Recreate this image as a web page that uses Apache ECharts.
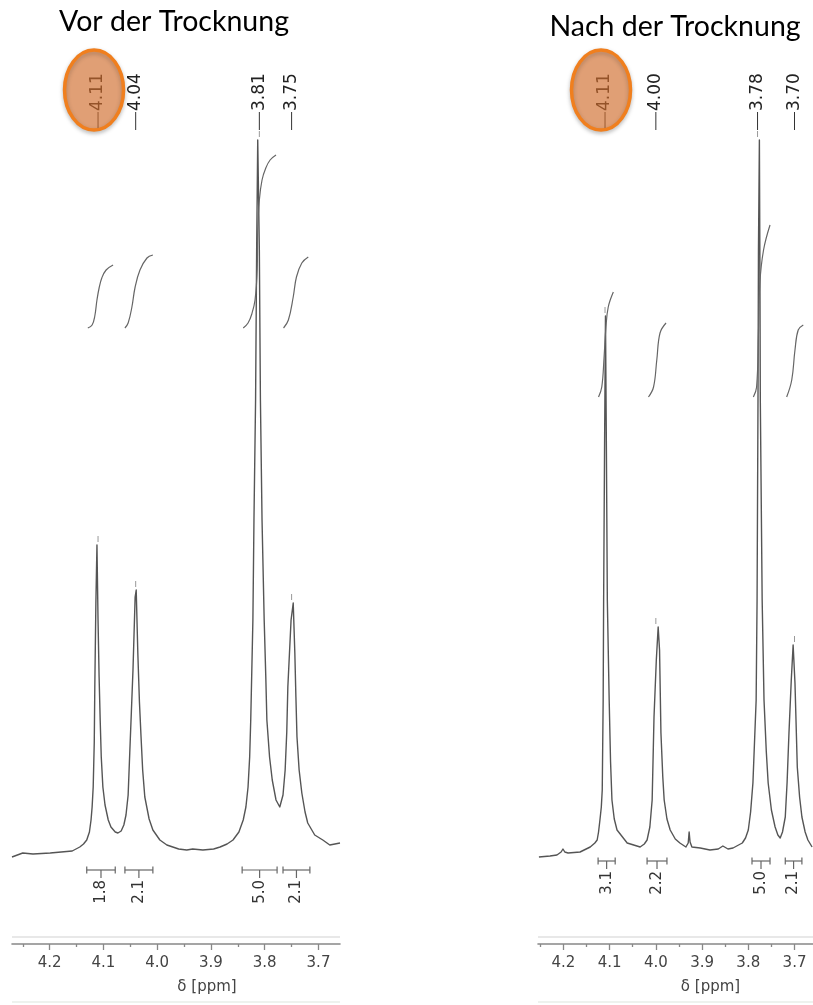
<!DOCTYPE html>
<html>
<head>
<meta charset="utf-8">
<title>NMR vor / nach der Trocknung</title>
<script src="https://cdn.jsdelivr.net/npm/echarts@6/dist/echarts.min.js"></script>
<style>
  html, body { margin: 0; padding: 0; background: #fff; }
  #myChart { width: 813px; height: 1005px; }
</style>
</head>
<body>
<div id="myChart"></div>
<script>
// Spektren [ppm, Intensität]
const leftSpectrum = [
  [4.270, -5], [4.250, -1], [4.231, -2], [4.199, -1], [4.158, 1], [4.144, 5], [4.137, 8], [4.131, 12],
  [4.126, 20], [4.123, 32], [4.121, 45], [4.119, 65], [4.117, 110], [4.116, 165], [4.114, 249],
  [4.112, 307], [4.110, 232], [4.108, 175], [4.106, 132], [4.104, 95],
  [4.101, 65], [4.097, 47], [4.091, 32], [4.086, 25], [4.078, 20], [4.073, 19], [4.067, 21],
  [4.062, 27], [4.058, 37], [4.054, 57], [4.051, 99], [4.048, 140],
  [4.045, 182], [4.041, 255], [4.039, 262], [4.036, 199], [4.033, 150], [4.030, 115], [4.027, 82],
  [4.023, 55], [4.015, 33],
  [4.008, 22], [3.995, 12], [3.982, 7], [3.960, 3], [3.945, 2], [3.934, 3], [3.915, 2], [3.895, 3],
  [3.883, 5], [3.870, 8], [3.859, 12], [3.848, 20], [3.840, 32], [3.835, 45],
  [3.831, 65], [3.828, 95], [3.826, 132], [3.822, 232], [3.820, 332], [3.817, 452], [3.815, 602], [3.813, 712],
  [3.810, 602], [3.808, 452], [3.805, 332], [3.801, 232], [3.798, 175], [3.796, 132], [3.791, 95],
  [3.786, 72], [3.779, 52],
  [3.772, 45], [3.766, 57], [3.762, 82], [3.759, 120], [3.757, 165], [3.751, 232], [3.747, 249], [3.744, 199],
  [3.742, 155], [3.740, 115], [3.736, 82], [3.731, 59], [3.725, 40], [3.720, 29], [3.707, 17],
  [3.692, 12], [3.679, 7], [3.660, 9]
];
const rightSpectrum = [
  [4.253, -5], [4.229, -4], [4.214, -3], [4.205, 0], [4.201, 3], [4.197, 0], [4.190, -1],
  [4.164, 0], [4.142, 5], [4.132, 9], [4.127, 12], [4.124, 20], [4.121, 32], [4.118, 45], [4.116, 62],
  [4.114, 152], [4.113, 252],
  [4.111, 402], [4.109, 536], [4.107, 402], [4.105, 252], [4.101, 152], [4.098, 90], [4.095, 52],
  [4.090, 33], [4.084, 22],
  [4.062, 9], [4.034, 5], [4.025, 8], [4.019, 12], [4.013, 25], [4.008, 52], [4.004, 135], [3.999, 192],
  [3.995, 225],
  [3.992, 202], [3.989, 119], [3.985, 75], [3.982, 52], [3.976, 33], [3.969, 22], [3.958, 13],
  [3.948, 9], [3.935, 5], [3.930, 9],
  [3.928, 20], [3.926, 10], [3.922, 5], [3.904, 4], [3.883, 2], [3.865, 3], [3.855, 6],
  [3.844, 3], [3.833, 4], [3.813, 9], [3.806, 14], [3.800, 22], [3.795, 40], [3.790, 69], [3.783, 152],
  [3.781, 252],
  [3.779, 452], [3.778, 602], [3.776, 712], [3.775, 602], [3.774, 452], [3.770, 252], [3.766, 152],
  [3.761, 100], [3.757, 69], [3.750, 42], [3.742, 25], [3.736, 17], [3.731, 14], [3.726, 20],
  [3.720, 35], [3.716, 70], [3.712, 119], [3.707, 172], [3.703, 207],
  [3.699, 169], [3.694, 85], [3.689, 55], [3.684, 35], [3.677, 20], [3.671, 12], [3.662, 5]
];

// Integralkurven
const leftIntegralCurves = [
  [[4.129, 524], [4.121, 527], [4.116, 536], [4.112, 552], [4.108, 564], [4.103, 574], [4.095, 582], [4.082, 587]],
  [[4.060, 524], [4.054, 529], [4.047, 545], [4.041, 565], [4.032, 582], [4.019, 594], [4.008, 597]],
  [[3.840, 524], [3.831, 529], [3.824, 538], [3.818, 552], [3.814, 582], [3.813, 622], [3.810, 652],
   [3.805, 672], [3.798, 684], [3.790, 692], [3.779, 697]],
  [[3.765, 524], [3.756, 532], [3.747, 555], [3.741, 575], [3.731, 589], [3.719, 595]]
];
const rightIntegralCurves = [
  [[4.124, 455], [4.117, 465], [4.112, 495], [4.108, 525], [4.103, 545], [4.092, 560]],
  [[4.016, 455], [4.005, 465], [3.998, 492], [3.991, 519], [3.978, 529]],
  [[3.789, 455], [3.782, 465], [3.778, 519], [3.775, 569], [3.767, 602], [3.753, 627]],
  [[3.717, 455], [3.706, 472], [3.699, 502], [3.692, 522], [3.681, 527]]
];

// Peaks
const leftPeaks = [4.11, 4.04, 3.81, 3.75];
const leftPeakLabels = ['4.11', '4.04', '3.81', '3.75'];
const leftPeakTops = [307, 262, 712, 249];
const rightPeaks = [4.11, 4.00, 3.78, 3.70];
const rightPeakLabels = ['4.11', '4.00', '3.78', '3.70'];
const rightPeakTops = [536, 225, 712, 207];
const markedPeak = '4.11';

// Integrationsbereiche
const leftRanges = [[4.131, 4.078], [4.060, 4.008], [3.842, 3.777], [3.766, 3.716]];
const leftIntegrals = ['1.8', '2.1', '5.0', '2.1'];
const rightRanges = [[4.125, 4.088], [4.019, 3.976], [3.792, 3.753], [3.720, 3.684]];
const rightIntegrals = ['3.1', '2.2', '5.0', '2.1'];

// Achse
const tickLabels = [4.2, 4.1, 4.0, 3.9, 3.8, 3.7];
const minorTicks = [4.25, 4.15, 4.05, 3.95, 3.85, 3.75];

const FONT = '"DejaVu Sans", Tahoma, sans-serif';
const TITLE_FONT = '28.5px Lato, "Open Sans", sans-serif';
const LABEL_LEVEL = 722; // unteres Ende der Peak-Markierung

function xAxes(gridIndex, max) {
  return [
    {
      type: 'value', gridIndex: gridIndex, position: 'bottom', inverse: true, min: 3.66, max: max,
      axisLine: { show: true, onZero: false, lineStyle: { color: '#888', width: 1.6 } },
      axisTick: { show: true, customValues: tickLabels, length: 6, lineStyle: { color: '#888', width: 1.3 } },
      axisLabel: {
        customValues: tickLabels, margin: 12, color: '#444', fontSize: 15, fontFamily: FONT,
        formatter: (v) => v.toFixed(1)
      },
      splitLine: { show: false },
      name: 'δ [ppm]', nameLocation: 'middle', nameGap: 36,
      nameTextStyle: { color: '#444', fontSize: 15, fontFamily: FONT, padding: [0, 0, 0, gridIndex ? 70 : 62] }
    },
    {
      // kleine Ticks
      type: 'value', gridIndex: gridIndex, position: 'bottom', inverse: true, min: 3.66, max: max,
      axisLine: { show: false, onZero: false },
      axisTick: { show: true, customValues: minorTicks, length: 3, lineStyle: { color: '#888', width: 1.3 } },
      axisLabel: { show: false },
      splitLine: { show: false }
    }
  ];
}

function peakLabelRender(labels, tops) {
  return function (params, api) {
    const i = params.dataIndex;
    const base = api.coord([api.value(0), LABEL_LEVEL]);
    const top = api.coord([api.value(0), tops[i]]);
    const children = [
      { type: 'line', shape: { x1: base[0], y1: base[1], x2: base[0], y2: base[1] - 18 },
        style: { stroke: '#333', lineWidth: 1 } },
      { type: 'text', x: base[0], y: base[1] - 19, rotation: Math.PI / 2,
        style: { text: labels[i], font: '17px ' + FONT, fill: '#222', align: 'left', verticalAlign: 'middle' } },
      { type: 'line', shape: { x1: top[0], y1: top[1] - 3, x2: top[0], y2: top[1] - 9 },
        style: { stroke: '#999', lineWidth: 1 } }
    ];
    if (labels[i] === markedPeak) {
      // orange Markierung
      children.push({
        type: 'ellipse', z2: 10,
        shape: { cx: base[0] - 4, cy: base[1] - 40, rx: 29.5, ry: 40 },
        style: { fill: 'rgba(228,120,50,0.6)', stroke: '#F07F1E', lineWidth: 3.5,
          shadowBlur: 4, shadowColor: 'rgba(0,0,0,0.25)', shadowOffsetY: 2 }
      });
    }
    return { type: 'group', children: children };
  };
}

function rangeRender(values, level) {
  return function (params, api) {
    const i = params.dataIndex;
    const a = api.coord([api.value(0), level]);
    const b = api.coord([api.value(1), level]);
    const m = (a[0] + b[0]) / 2;
    const st = { stroke: '#666', lineWidth: 1.2 };
    return {
      type: 'group',
      children: [
        { type: 'line', shape: { x1: a[0], y1: a[1], x2: b[0], y2: b[1] }, style: st },
        { type: 'line', shape: { x1: a[0], y1: a[1] - 3.5, x2: a[0], y2: a[1] + 3.5 }, style: st },
        { type: 'line', shape: { x1: b[0], y1: b[1] - 3.5, x2: b[0], y2: b[1] + 3.5 }, style: st },
        { type: 'line', shape: { x1: m, y1: a[1], x2: m, y2: a[1] + 8 }, style: st },
        { type: 'text', x: m, y: a[1] + 10, rotation: Math.PI / 2,
          style: { text: values[i], font: '15px ' + FONT, fill: '#333', align: 'right', verticalAlign: 'middle' } }
      ]
    };
  };
}

function panelSeries(idx, spectrum, curves, peaks, labels, tops, ranges, integrals, level) {
  const xi = idx * 2;
  const list = [{
    type: 'line', xAxisIndex: xi, yAxisIndex: idx, data: spectrum,
    showSymbol: false, smooth: false,
    lineStyle: { color: '#555', width: 1.4, join: 'round' }, silent: true
  }];
  curves.forEach((c) => {
    list.push({
      type: 'line', xAxisIndex: xi, yAxisIndex: idx, data: c,
      showSymbol: false, smooth: 0.4,
      lineStyle: { color: '#666', width: 1.2 }, silent: true
    });
  });
  list.push({
    type: 'custom', xAxisIndex: xi, yAxisIndex: idx,
    data: peaks.map((p) => [p, LABEL_LEVEL]),
    encode: { x: 0, y: 1 },
    renderItem: peakLabelRender(labels, tops), z: 5
  });
  list.push({
    type: 'custom', xAxisIndex: xi, yAxisIndex: idx,
    data: ranges,
    encode: { x: [0, 1] },
    renderItem: rangeRender(integrals, level)
  });
  return list;
}

const myChartDrawer = echarts.init(document.getElementById('myChart'));
const option = {
  animation: false,
  backgroundColor: '#fff',
  grid: [
    { left: 12, width: 328, top: 20, height: 924 },
    { left: 538, width: 275, top: 20, height: 924 }
  ],
  xAxis: [].concat(xAxes(0, 4.27), xAxes(1, 4.255)),
  yAxis: [
    { type: 'value', gridIndex: 0, min: -92, max: 832, show: false },
    { type: 'value', gridIndex: 1, min: -92, max: 832, show: false }
  ],
  graphic: [
    { type: 'text', x: 174, y: 22,
      style: { text: 'Vor der Trocknung', font: TITLE_FONT, fill: '#000', align: 'center', verticalAlign: 'middle' } },
    { type: 'text', x: 675, y: 27,
      style: { text: 'Nach der Trocknung', font: TITLE_FONT, fill: '#000', align: 'center', verticalAlign: 'middle' } },
    // graue Trennlinien
    { type: 'rect', shape: { x: 12, y: 936, width: 328, height: 2 }, style: { fill: '#e8e8e8' } },
    { type: 'rect', shape: { x: 538, y: 936, width: 275, height: 2 }, style: { fill: '#e8e8e8' } },
    { type: 'rect', shape: { x: 12, y: 1001, width: 328, height: 2 }, style: { fill: '#eef2ee' } },
    { type: 'rect', shape: { x: 538, y: 1001, width: 275, height: 2 }, style: { fill: '#eef2ee' } }
  ],
  series: [].concat(
    panelSeries(0, leftSpectrum, leftIntegralCurves, leftPeaks, leftPeakLabels, leftPeakTops, leftRanges, leftIntegrals, -18),
    panelSeries(1, rightSpectrum, rightIntegralCurves, rightPeaks, rightPeakLabels, rightPeakTops, rightRanges, rightIntegrals, -9)
  )
};
myChartDrawer.setOption(option);
</script>
</body>
</html>
